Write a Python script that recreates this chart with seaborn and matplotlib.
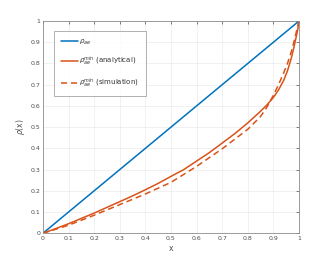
import numpy as np
import pandas as pd
import seaborn as sns
import matplotlib.pyplot as plt

# values
x_ae = [0.0, 1.0]
rho_ae = [0.0, 1.0]

x_ana = [0, 0.05, 0.1, 0.15, 0.2, 0.25, 0.3, 0.35, 0.4, 0.45, 0.5, 0.55, 0.6,
         0.65, 0.7, 0.75, 0.8, 0.85, 0.875, 0.9, 0.92, 0.94, 0.955, 0.97, 0.98,
         0.99, 0.996, 1.0]
rho_ana = [0, 0.022, 0.045, 0.07, 0.095, 0.122, 0.149, 0.176, 0.205, 0.235, 0.268, 0.30, 0.34,
           0.38, 0.425, 0.47, 0.52, 0.575, 0.605, 0.64, 0.675, 0.72, 0.765, 0.825, 0.875,
           0.93, 0.965, 1.0]

x_sim = [0, 0.1, 0.2, 0.3, 0.4, 0.5, 0.6, 0.7, 0.8, 0.85, 0.875, 0.9, 0.92, 0.94,
         0.955, 0.97, 0.98, 0.99, 1.0]
rho_sim = [0, 0.038, 0.085, 0.135, 0.185, 0.24, 0.315, 0.398, 0.49, 0.55, 0.595, 0.65, 0.70,
           0.755, 0.80, 0.855, 0.90, 0.95, 1.0]

ticks = [round(0.1 * i, 1) for i in range(11)]
tick_labels = ['0', '0.1', '0.2', '0.3', '0.4', '0.5', '0.6', '0.7', '0.8', '0.9', '1']

sns.set_style('whitegrid')
plt.rcParams['font.family'] = ['DejaVu Sans']

fig = plt.figure(figsize=(3.3, 2.63), dpi=100)
ax = fig.add_axes([0.130, 0.113, 0.776, 0.807])

sns.lineplot(x=x_ae, y=rho_ae, ax=ax, color='#0072BD', lw=1.1,
             label=r'$\rho_{ae}$')
sns.lineplot(x=x_ana, y=rho_ana, ax=ax, color='#D95319', lw=1.1,
             label=r'$\rho_{ae}^{min}$ (analytical)')
sns.lineplot(x=x_sim, y=rho_sim, ax=ax, color='#D95319', lw=1.1,
             label=r'$\rho_{ae}^{min}$ (simulation)')
ax.lines[2].set_dashes([4, 2.5])

ax.set_xlim(0, 1)
ax.set_ylim(0, 1)
ax.set_xticks(ticks)
ax.set_xticklabels(tick_labels)
ax.set_yticks(ticks)
ax.set_yticklabels(tick_labels)
ax.tick_params(labelsize=4.5, colors='#4d4d4d', direction='in', length=2,
               width=0.5, top=True, right=True, pad=2)
ax.grid(True, color='#ececec', lw=0.5)
for s in ax.spines.values():
    s.set_color('#8c8c8c')
    s.set_linewidth(0.6)
ax.set_xlabel('x', fontsize=5.5, color='#4d4d4d', labelpad=2)
ax.set_ylabel(r'$\rho$(x)', fontsize=5.5, color='#4d4d4d', labelpad=2)

leg = ax.legend(loc='upper left', bbox_to_anchor=(0.043, 0.954), fontsize=5,
                borderaxespad=0, frameon=True, fancybox=False, handlelength=2.5,
                labelspacing=1.15, borderpad=1.0, handletextpad=0.15)
leg.get_frame().set_edgecolor('#8c8c8c')
leg.get_frame().set_linewidth(0.6)
for t in leg.get_texts():
    t.set_color('#333333')

fig.savefig('out.png', dpi=100)
